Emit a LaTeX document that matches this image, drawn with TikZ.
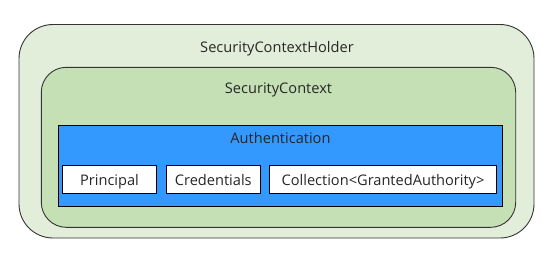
\documentclass[tikz,border=0pt]{standalone}
\usepackage{fontspec}
\setmainfont{Open Sans}
\definecolor{outerfill}{HTML}{E2EEDA}
\definecolor{innerfill}{HTML}{C5E0B4}
\definecolor{authfill}{HTML}{3399FF}
\definecolor{edge}{HTML}{333333}
\begin{document}
\begin{tikzpicture}[x=1bp,y=-1bp,
  holder/.style={draw=edge,line width=0.9bp,fill=outerfill,rounded corners=34bp},
  ctx/.style={draw=edge,line width=0.9bp,fill=innerfill,rounded corners=25bp},
  auth/.style={draw=black,line width=0.9bp,fill=authfill},
  item/.style={draw=black,line width=0.9bp,fill=white,inner sep=0pt},
  lbl/.style={font=\fontsize{14.6bp}{16bp}\selectfont,text=black!85,inner sep=0pt,anchor=base}]
\useasboundingbox (0,0) rectangle (555,263);
\draw[holder] (19,24.5) rectangle (534,238);
\draw[ctx] (41.3,67.3) rectangle (515.7,227.3);
\draw[auth] (58.3,125.7) rectangle (502.7,206.3);
\node[item,minimum width=94.4bp,minimum height=28bp] (p) at (109.5,179.3) {};
\node[item,minimum width=94bp,minimum height=28bp] (c) at (213.3,179.3) {};
\node[item,minimum width=227.4bp,minimum height=28bp] (g) at (383,179.3) {};
\node[lbl] (t1) at (277,52.5) {SecurityContextHolder};
\node[lbl] (t2) at (278.5,93.5) {SecurityContext};
\node[lbl] (t3) at (280.5,143) {Authentication};
\node[lbl] (tp) at (109.5,185) {Principal};
\node[lbl] (tc) at (213.3,185) {Credentials};
\node[lbl] (tg) at (383,185) {Collection<GrantedAuthority>};
\end{tikzpicture}
\end{document}
